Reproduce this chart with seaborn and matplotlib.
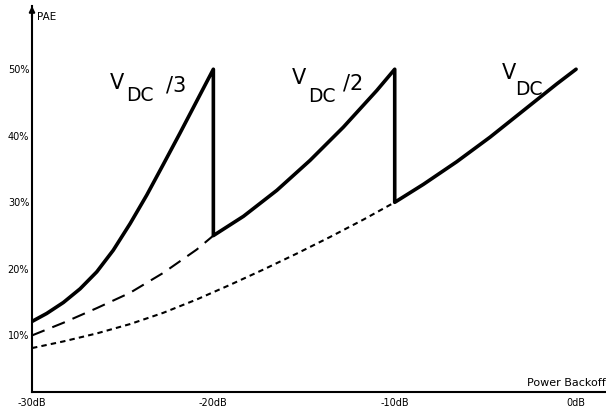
import matplotlib
matplotlib.use("Agg")
import matplotlib.pyplot as plt
import seaborn as sns
import pandas as pd

# ---- data ----
backoff_solid = [-30, -29.19, -28.27, -27.35, -26.43, -25.52, -24.59, -23.67, -22.76, -21.84, -20.92, -20,
                 -20, -18.34, -16.5, -14.67, -12.83, -10.99, -10,
                 -10, -8.42, -6.58, -4.74, -2.9, -1.06, 0]
pae_solid = [12.1, 13.3, 14.95, 17.0, 19.55, 22.8, 26.8, 31.1, 35.7, 40.4, 45.2, 50,
             25.0, 27.9, 31.8, 36.3, 41.3, 46.8, 50,
             30.0, 32.7, 36.1, 39.8, 43.8, 47.8, 50]

backoff_long = [-30, -28.27, -26.43, -24.6, -22.76, -20.92, -20]
pae_long = [10.0, 11.9, 14.1, 16.4, 19.4, 22.9, 25.0]

backoff_short = [-30, -28.27, -26.43, -24.6, -22.76, -20.92, -19.08, -17.24, -15.4, -13.56, -11.73, -10]
pae_short = [8.1, 9.1, 10.3, 11.7, 13.4, 15.4, 17.6, 19.9, 22.3, 24.8, 27.4, 30.0]

x_ticks = [-30, -20, -10, 0]
x_labels = ["-30dB", "-20dB", "-10dB", "0dB"]
y_ticks = [10, 20, 30, 40, 50]
y_labels = ["10%", "20%", "30%", "40%", "50%"]

sns.set_style("white")
plt.rcParams["font.family"] = ["DejaVu Sans"]
plt.rcParams["text.color"] = "black"

fig = plt.figure(figsize=(6.06, 4.18), dpi=100)
ax = fig.add_axes([32 / 606, 26 / 418, 1 - 32 / 606, 1 - 26 / 418 - 6 / 418])

df_solid = pd.DataFrame({"x": backoff_solid, "y": pae_solid})
df_long = pd.DataFrame({"x": backoff_long, "y": pae_long})
df_short = pd.DataFrame({"x": backoff_short, "y": pae_short})

sns.lineplot(data=df_solid, x="x", y="y", sort=False, estimator=None, ax=ax,
             color="black", linewidth=2.6)
sns.lineplot(data=df_long, x="x", y="y", sort=False, estimator=None, ax=ax,
             color="black", linewidth=1.5)
ax.lines[-1].set_dashes([6.5, 4])
sns.lineplot(data=df_short, x="x", y="y", sort=False, estimator=None, ax=ax,
             color="black", linewidth=1.5)
ax.lines[-1].set_dashes([2.6, 2.0])

ax.set_xlim(-30, 1.65)
ax.set_ylim(1.5, 59.5)
ax.set_xticks(x_ticks)
ax.set_xticklabels(x_labels)
ax.set_yticks(y_ticks)
ax.set_yticklabels(y_labels)
ax.set_xlabel("")
ax.set_ylabel("")

for s in ["top", "right"]:
    ax.spines[s].set_visible(False)
for s in ["left", "bottom"]:
    ax.spines[s].set_linewidth(1.5)
    ax.spines[s].set_color("black")

ax.tick_params(axis="both", labelsize=7, colors="black", width=1, length=4,
               direction="inout", pad=1)
ax.tick_params(axis="y", pad=0)
ax.tick_params(axis="x", pad=2)

# arrow at top of y axis
ax.annotate("", xy=(0, 1.0), xycoords="axes fraction", xytext=(0, 0.97),
            arrowprops=dict(arrowstyle="-|>", color="black", lw=1.5,
                            mutation_scale=8, shrinkA=0, shrinkB=0))

ax.text(0.008, 0.985, "PAE", transform=ax.transAxes, fontsize=7.5,
        ha="left", va="top")
ax.text(1.0, 0.01, "Power Backoff", transform=ax.transAxes, fontsize=8,
        ha="right", va="bottom")

# curve labels
fs_v = 15
fs_dc = 13.5
ax.text(-25.7, 47.0, "V", fontsize=fs_v, ha="left", va="baseline")
ax.text(-24.8, 45.2, "DC", fontsize=fs_dc, ha="left", va="baseline")
ax.text(-22.6, 46.7, "/3", fontsize=fs_v, ha="left", va="baseline")

ax.text(-15.7, 47.8, "V", fontsize=fs_v, ha="left", va="baseline")
ax.text(-14.8, 45.1, "DC", fontsize=fs_dc, ha="left", va="baseline")
ax.text(-12.85, 47.0, "/2", fontsize=fs_v, ha="left", va="baseline")

ax.text(-4.1, 48.5, "V", fontsize=fs_v, ha="left", va="baseline")
ax.text(-3.36, 46.1, "DC", fontsize=fs_dc, ha="left", va="baseline")

fig.savefig("out.png", dpi=100)
